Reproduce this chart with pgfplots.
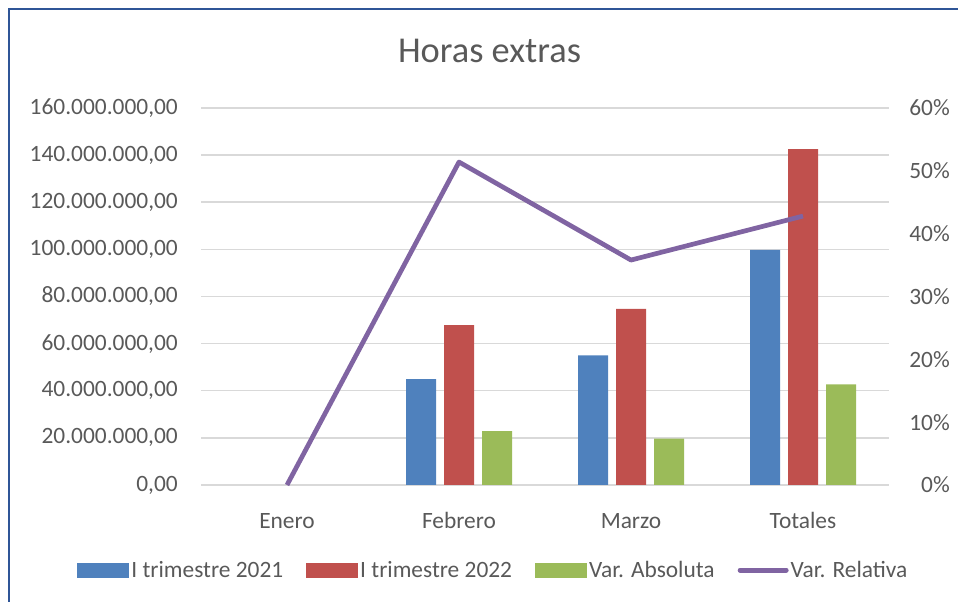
\documentclass[border=0pt]{standalone}
\usepackage{pgfplots}
\pgfplotsset{compat=1.18}
\usepackage{fontspec}
\setmainfont{Carlito}
\definecolor{txt}{HTML}{595959}
\definecolor{gridc}{HTML}{D9D9D9}
\definecolor{cblue}{HTML}{4F81BD}
\definecolor{cred}{HTML}{C0504D}
\definecolor{cgreen}{HTML}{9BBB59}
\definecolor{cpurple}{HTML}{8064A2}
\definecolor{framec}{HTML}{2F5597}

\begin{document}
\begin{tikzpicture}[x=1pt,y=1pt]
\useasboundingbox (0,0) rectangle (958,602);
\draw[framec, line width=2pt] (9,0) -- (9,593) -- (958,593);
\node[txt, font=\fontsize{36.4}{40}\selectfont, anchor=base, inner sep=0pt] at (489.5,539) {Horas extras};

% valores en millones
\begin{axis}[
  at={(201pt,117pt)}, anchor=south west,
  width=688pt, height=377pt, scale only axis,
  xmin=-0.5, xmax=3.5, ymin=0, ymax=160,
  xtick={0,1,2,3}, xticklabels={Enero,Febrero,Marzo,Totales},
  ytick={0,20,...,160},
  yticklabels={{0,00},{20.000.000,00},{40.000.000,00},{60.000.000,00},{80.000.000,00},{100.000.000,00},{120.000.000,00},{140.000.000,00},{160.000.000,00}},
  ymajorgrids, grid style={gridc, line width=1.5pt},
  axis line style={draw=none}, tick style={draw=none},
  ybar=8pt, bar width=30pt,
  ticklabel style={txt, font=\fontsize{23.4}{28}\selectfont, inner sep=0pt},
  yticklabel style={anchor=east, xshift=-23pt},
  xticklabel style={anchor=base, yshift=-39pt},
  legend columns=4,
  legend style={draw=none, fill=none, at={(0.425,-0.2255)}, anchor=center,
    font=\fontsize{23.4}{28}\selectfont, text=txt,
    /tikz/every even column/.append style={column sep=21pt}},
  legend cell align=left,
  legend image code/.code={\fill[#1] (0pt,-7.5pt) rectangle (52pt,7.5pt);},
]
\addplot[fill=cblue, draw=none] coordinates {(1,44.9) (2,55.0) (3,99.8)};
\addplot[fill=cred, draw=none] coordinates {(1,67.8) (2,74.7) (3,142.5)};
\addplot[fill=cgreen, draw=none] coordinates {(1,22.9) (2,19.7) (3,42.7)};
\addlegendentry{I trimestre 2021}
\addlegendentry{I trimestre 2022}
\addlegendentry{Var. Absoluta}
\addlegendimage{legend image code/.code={\draw[cpurple, line width=5pt, line cap=round] (4pt,0pt) -- (50pt,0pt);}}
\addlegendentry{Var. Relativa}
\end{axis}

\begin{axis}[
  at={(201pt,117pt)}, anchor=south west,
  width=688pt, height=377pt, scale only axis,
  xmin=-0.5, xmax=3.5, ymin=0, ymax=0.6,
  hide x axis, axis y line*=right,
  axis line style={draw=none}, tick style={draw=none},
  ytick={0,0.1,0.2,0.3,0.4,0.5,0.6},
  yticklabels={0\%,10\%,20\%,30\%,40\%,50\%,60\%},
  yticklabel style={txt, font=\fontsize{23.4}{28}\selectfont, inner sep=0pt, anchor=east, xshift=61pt},
  clip=false,
]
\addplot[cpurple, line width=4.7pt, line join=round, mark=none] coordinates {(0,0) (1,0.514) (2,0.358) (3,0.428)};
\end{axis}
\end{tikzpicture}
\end{document}
